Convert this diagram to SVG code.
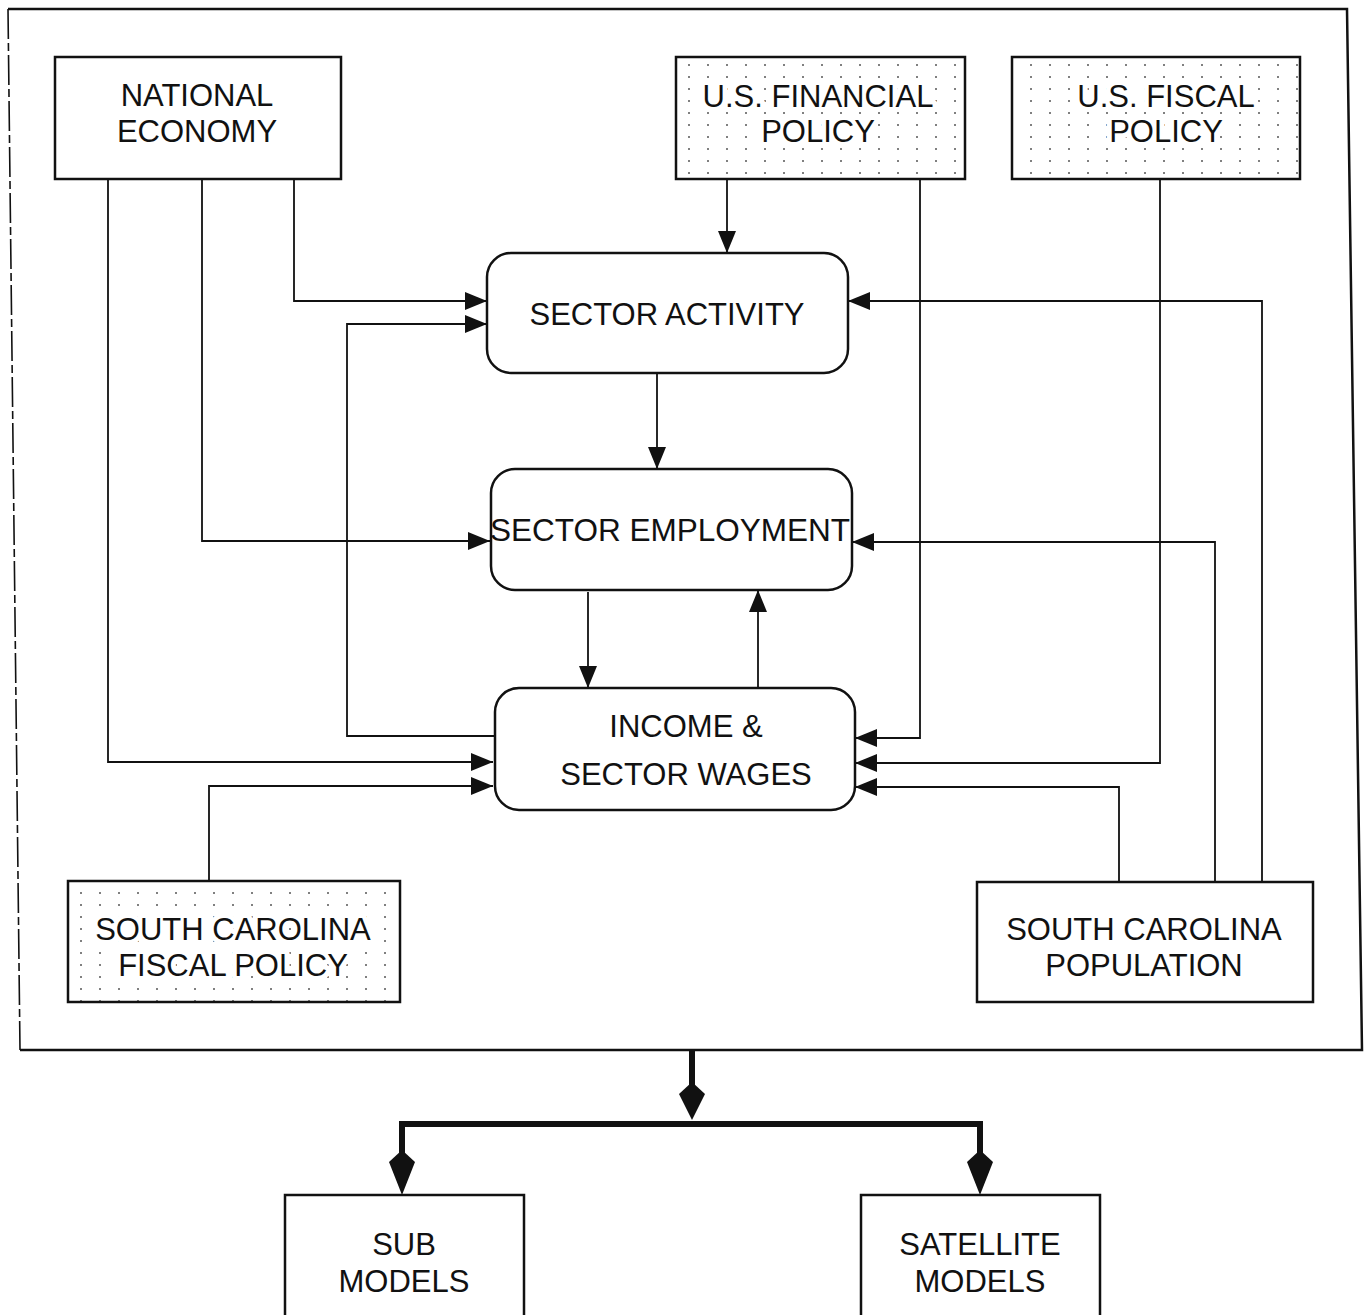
<svg xmlns="http://www.w3.org/2000/svg" width="1364" height="1315" viewBox="0 0 1364 1315">
<style>
  .box { fill: #fff; stroke: #111; stroke-width: 2.5; }
  .dot { fill: url(#dots); stroke: #111; stroke-width: 2.5; }
  .lbl { font-family: "Liberation Sans", Arial, sans-serif; font-size: 31px; fill: #111; text-anchor: middle; }
  .halo { stroke: #fff; stroke-width: 10; paint-order: stroke; stroke-linejoin: round; }
  .con { fill: none; stroke: #111; stroke-width: 1.8; }
  .arr { marker-end: url(#ah); }
  .thick { fill: none; stroke: #111; stroke-width: 6; }
  .head { fill: #111; }
</style>
<defs>
  <pattern id="dots" width="19" height="12" patternUnits="userSpaceOnUse">
    <rect width="19" height="12" fill="#fff"/>
    <circle cx="5" cy="5" r="1" fill="#555"/>
  </pattern>
  <marker id="ah" markerUnits="userSpaceOnUse" markerWidth="24" markerHeight="20" refX="22" refY="9" orient="auto">
    <path d="M0,0 L22,9 L0,18 Z" fill="#111"/>
  </marker>
</defs>
<rect width="1364" height="1315" fill="#fff"/>

<g id="frame">
  <path d="M8,9 L1347,9 L1362,1050 L20,1050" fill="none" stroke="#111" stroke-width="2.5"/>
  <path d="M8,9 L20,1050" fill="none" stroke="#111" stroke-width="1.6" stroke-dasharray="30 4 8 4"/>
</g>

<g id="connectors">
  <!-- National economy -->
  <path class="con arr" d="M294,179 V301 H487"/>
  <path class="con arr" d="M202,179 V541 H490"/>
  <path class="con arr" d="M108,179 V762 H493"/>
  <!-- Income loop to sector activity -->
  <path class="con arr" d="M495,736 H347 V324 H487"/>
  <!-- US financial -->
  <path class="con arr" d="M727,179 V253"/>
  <path class="con arr" d="M920,179 V738 H855"/>
  <!-- US fiscal -->
  <path class="con arr" d="M1160,179 V763 H855"/>
  <!-- SC fiscal -->
  <path class="con arr" d="M209,881 V786 H493"/>
  <!-- SC population -->
  <path class="con arr" d="M1119,882 V787 H855"/>
  <path class="con arr" d="M1215,882 V542 H852"/>
  <path class="con arr" d="M1262,882 V301 H848"/>
  <!-- center chain -->
  <path class="con arr" d="M657,373 V469"/>
  <path class="con arr" d="M588,592 V688"/>
  <path class="con arr" d="M758,688 V590"/>
  <!-- bottom distribution -->
  <path class="thick" d="M692,1050 V1085"/>
  <path class="thick" d="M402,1160 V1124 H980 V1160"/>
  <path class="head" d="M692,1082 L705,1094 L692,1120 L679,1094 Z"/>
  <path class="head" d="M402,1150 L415,1162 L402,1195 L389,1162 Z"/>
  <path class="head" d="M980,1150 L993,1162 L980,1195 L967,1162 Z"/>
</g>

<g id="national-economy">
  <rect class="box" x="55" y="57" width="286" height="122"/>
  <text class="lbl" x="197" y="106">NATIONAL</text>
  <text class="lbl" x="197" y="142">ECONOMY</text>
</g>

<g id="us-financial-policy">
  <rect class="dot" x="676" y="57" width="289" height="122"/>
  <text class="lbl halo" x="818" y="107">U.S. FINANCIAL</text>
  <text class="lbl halo" x="818" y="142">POLICY</text>
</g>

<g id="us-fiscal-policy">
  <rect class="dot" x="1012" y="57" width="288" height="122"/>
  <text class="lbl halo" x="1166" y="107">U.S. FISCAL</text>
  <text class="lbl halo" x="1166" y="142">POLICY</text>
</g>

<g id="sector-activity">
  <rect class="box" x="487" y="253" width="361" height="120" rx="24" ry="24"/>
  <text class="lbl" x="667" y="325">SECTOR ACTIVITY</text>
</g>

<g id="sector-employment">
  <rect class="box" x="491" y="469" width="361" height="121" rx="24" ry="24"/>
  <text class="lbl" x="670" y="541" textLength="360" lengthAdjust="spacingAndGlyphs">SECTOR EMPLOYMENT</text>
</g>

<g id="income-sector-wages">
  <rect class="box" x="495" y="688" width="360" height="122" rx="24" ry="24"/>
  <text class="lbl" x="686" y="737">INCOME &amp;</text>
  <text class="lbl" x="686" y="785">SECTOR WAGES</text>
</g>

<g id="sc-fiscal-policy">
  <rect class="dot" x="68" y="881" width="332" height="121"/>
  <text class="lbl halo" x="233" y="940">SOUTH CAROLINA</text>
  <text class="lbl halo" x="233" y="976">FISCAL POLICY</text>
</g>

<g id="sc-population">
  <rect class="box" x="977" y="882" width="336" height="120"/>
  <text class="lbl" x="1144" y="940">SOUTH CAROLINA</text>
  <text class="lbl" x="1144" y="976">POPULATION</text>
</g>

<g id="sub-models">
  <rect class="box" x="285" y="1195" width="239" height="140"/>
  <text class="lbl" x="404" y="1255">SUB</text>
  <text class="lbl" x="404" y="1292">MODELS</text>
</g>

<g id="satellite-models">
  <rect class="box" x="861" y="1195" width="239" height="140"/>
  <text class="lbl" x="980" y="1255">SATELLITE</text>
  <text class="lbl" x="980" y="1292">MODELS</text>
</g>
</svg>
